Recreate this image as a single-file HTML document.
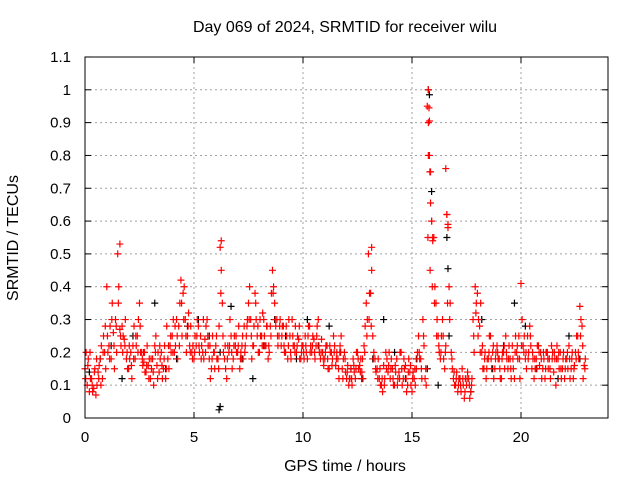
<!DOCTYPE html>
<html><head><meta charset="utf-8"><style>
body{margin:0;background:#fff;}
svg{display:block;font-family:"Liberation Sans",sans-serif;}
</style></head><body>
<svg id="chart" width="640" height="480">
<rect width="640" height="480" fill="#fff"/>
<text x="345" y="32" text-anchor="middle" font-size="16">Day 069 of 2024, SRMTID for receiver wilu</text>
<text x="345" y="471" text-anchor="middle" font-size="16">GPS time / hours</text>
<text transform="translate(18,238) rotate(-90)" text-anchor="middle" font-size="16">SRMTID / TECUs</text>
<g id="grid"></g><g id="ticks"></g><g id="marks"></g>
<rect x="85" y="57" width="523" height="361" fill="none" stroke="#000"/>
</svg>
<script>
const xTicks=[0,5,10,15,20];
const yTicks=[0,0.1,0.2,0.3,0.4,0.5,0.6,0.7,0.8,0.9,1,1.1];
const yTickLabels=["0","0.1","0.2","0.3","0.4","0.5","0.6","0.7","0.8","0.9","1","1.1"];
const redA=[15,10,8,12,9,7,14,18,12,20,40,22,18,26,30,50,27,28,24,18,15,20,22,18,25,35,20,17,14,16,12,18,22,16,14,20,15,12,18,22,25,20,30,28,42,38,30,25,22,20,18,22,28,25,20,24,30,18,15,20,22,18,52,35,18,12,20,25,18,22,20,15,22,28,25,35,30,22,38,25,20,25,30,22,18,28,45,35,30,25,22,28,20,18,25,30,22,20,24,18,22,25,18,28,20,24,22,30,18,20,18,22,15,20,25,16,18,22,15,20,12,10,15,18,12,20,16,14,22,35,50,38,25,18,15,12,10,16,20,14,12,15,10,18,14,20,12,16,10,14,8,12,15,25,18,30,12,95,80,60,55,35,25,18,30,15,62,40,20,12,10,8,12,15,6,10,12,8,30,40,38,28,20,15,12,18,25,20,15,22,18,12,20,25,15,18,22,12,20,25,41,22,18,25,28,15,12,18,22,20,15,12,20,18,22,14,10,18,20,15,12,18,22,15,12,20,25,34,28,16];
const redB=[20,18,12,8,15,10,16,22,25,15,20,28,35,15,20,40,22,25,30,15,18,12,28,22,30,20,16,14,22,18,15,10,25,20,18,12,22,28,15,20,30,22,18,35,25,40,20,32,28,22,25,30,20,22,18,28,22,12,25,15,18,28,45,20,15,22,30,15,25,20,28,20,18,22,30,40,18,28,30,20,25,32,22,28,20,38,40,28,22,30,28,20,25,30,18,22,28,25,18,22,18,20,28,22,25,18,28,20,24,16,22,15,20,18,22,20,12,25,18,14,16,12,10,14,20,15,18,12,28,30,38,45,20,14,18,10,8,12,18,20,18,10,14,12,20,10,15,8,18,10,14,10,20,18,12,22,10,90,75,55,40,30,20,25,18,22,58,35,15,10,14,12,8,10,12,14,6,12,20,35,30,35,15,20,18,25,15,12,20,18,12,20,15,18,22,12,15,25,18,12,30,25,15,20,22,18,15,22,16,12,18,20,15,12,20,18,22,15,12,20,18,15,12,20,16,25,18,30,12,18];
const redC=[12,16,20,10,14,18,12,10,20,28,25,18,30,22,28,35,25,20,22,20,22,16,18,25,20,28,18,20,16,12,18,14,20,12,22,16,18,15,22,25,20,28,25,22,35,30,25,28,20,18,20,25,22,18,30,20,25,22,18,20,25,15,38,25,22,18,22,20,22,25,22,18,25,20,28,30,25,22,35,28,30,22,25,28,22,25,38,30,25,28,25,22,28,22,20,25,20,22,28,20,20,22,25,20,22,20,25,22,20,18,20,18,22,16,20,18,15,20,12,18,14,12,12,16,15,18,14,18,20,25,30,28,18,15,12,15,12,10,15,16,15,12,16,10,12,15,18,12,14,16,12,15,18,20,15,25,15,55,45,40,35,25,22,20,25,20,35,30,18,14,12,10,10,12,8,12,10,10,25,32,25,20,22,18,15,20,18,22,18,20,15,18,22,20,18,15,18,20,22,18,22,20,20,18,25,20,18,15,20,18,20,15,18,15,18,20,18,20,15,18,15,20,18,18,15,18,20,25,22,15];
const blackV=[14,18,22,12,25,20,35,15,18,28,30,25,20,34,18,12,22,30,25,18,30,22,28,20,15,12,18,30,20,12,18,15,10,25,12,8,30,15,22,35,28,15,20,12,25,18];
const redExtraT=[15.75,15.78,15.8,15.75,15.82,15.85,15.9,15.95,16.55,16.6,16.65,1.6,6.25,13.15];
const redExtraV=[1.0,0.945,0.905,0.8,0.75,0.655,0.6,0.54,0.76,0.62,0.59,0.53,0.54,0.52];
const blackExtraT=[15.75,15.8,15.9,6.15,6.2,16.6,16.65];
const blackExtraV=[1.0,0.985,0.69,0.025,0.035,0.55,0.455];
const X=t=>85+t*21.8, Y=v=>418-v*328.2;
const NS="http://www.w3.org/2000/svg";
function mk(tag,attrs,parent){const e=document.createElementNS(NS,tag);for(const k in attrs)e.setAttribute(k,attrs[k]);parent.appendChild(e);return e;}
const grid=document.getElementById('grid'),ticks=document.getElementById('ticks'),marks=document.getElementById('marks');
xTicks.forEach(t=>{
 if(t>0){const g=mk('line',{x1:X(t),x2:X(t),y1:57,y2:418,stroke:'#a0a0a0','stroke-dasharray':'2,3'},grid);
 
 }
 mk('line',{x1:X(t),x2:X(t),y1:418,y2:412,stroke:'#000'},ticks);
 mk('line',{x1:X(t),x2:X(t),y1:57,y2:63,stroke:'#000'},ticks);
 const l=mk('text',{x:X(t),y:442,'text-anchor':'middle','font-size':15},ticks);l.textContent=t;
 
 
});
yTicks.forEach((v,i)=>{
 if(v>0&&v<1.1){const g=mk('line',{x1:85,x2:608,y1:Y(v),y2:Y(v),stroke:'#a0a0a0','stroke-dasharray':'2,3'},grid);
 
 }
 mk('line',{x1:85,x2:91,y1:Y(v),y2:Y(v),stroke:'#000'},ticks);
 mk('line',{x1:608,x2:602,y1:Y(v),y2:Y(v),stroke:'#000'},ticks);
 const l=mk('text',{x:71,y:Y(v)+5,'text-anchor':'end','font-size':15},ticks);l.textContent=yTickLabels[i];
 
 
});
function plus(t,v,c,name){const x=X(t),y=Y(v);
 const p=mk('path',{d:`M${x-3.5},${y}H${x+3.5}M${x},${y-3.5}V${y+3.5}`,stroke:c,'stroke-width':1.2,fill:'none'},marks);
 
 }
blackV.forEach((v,i)=>plus(i*0.5+0.2,v/100,'#000','black-point'));
blackExtraT.forEach((t,i)=>plus(t,blackExtraV[i],'#000','black-point'));
redA.forEach((v,i)=>plus(i*0.1,v/100,'#f00','red-point'));
redB.forEach((v,i)=>plus(i*0.1+0.05,v/100,'#f00','red-point'));
redC.forEach((v,i)=>plus(i*0.1+0.03,v/100,'#f00','red-point'));
redExtraT.forEach((t,i)=>plus(t,redExtraV[i],'#f00','red-point'));
</script>
</body></html>
